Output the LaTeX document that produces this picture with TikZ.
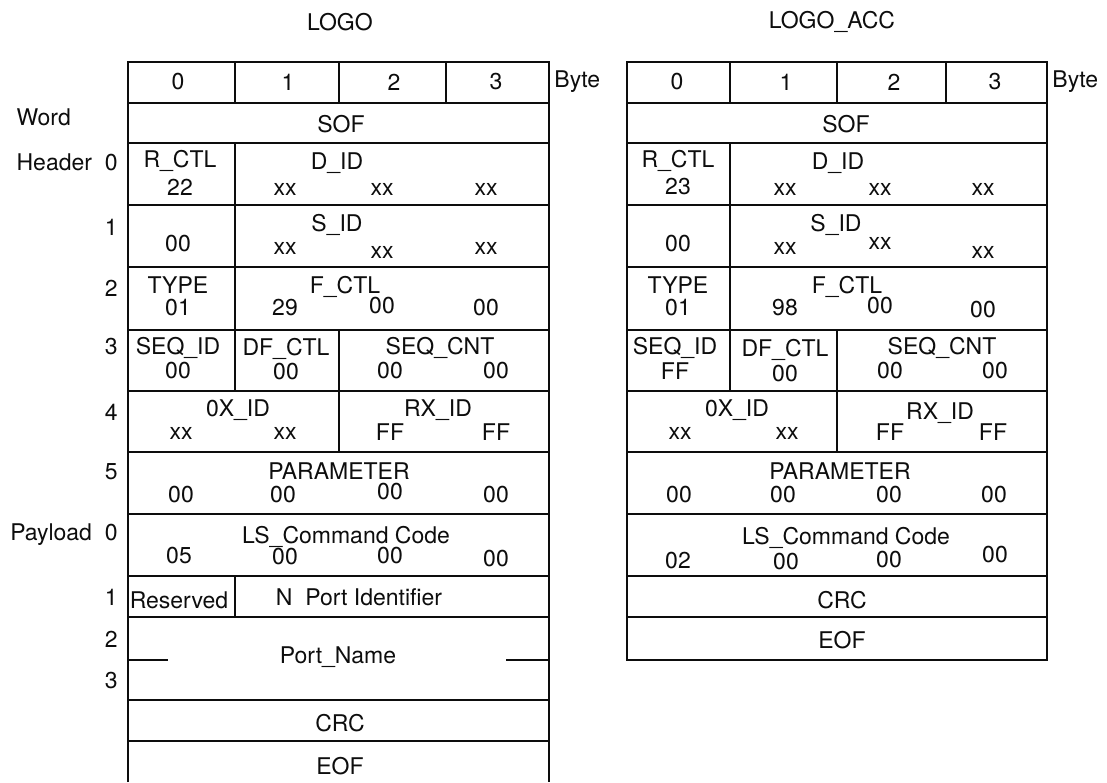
\documentclass[tikz,border=0pt]{standalone}
\usepackage{fontspec}
\setmainfont{TeX Gyre Heros}
\usepackage{tikz}
\usetikzlibrary{positioning}
\definecolor{frameink}{gray}{0.05}
\tikzset{
  frameline/.style  = {draw=frameink, line width=0.95pt},
  fieldtxt/.style   = {font=\fontsize{11.5}{13.5}\selectfont, text=frameink,
                       inner sep=0pt},
  sidelab/.style    = {fieldtxt, anchor=east},
  bytelab/.style    = {fieldtxt, anchor=west},
  frametitle/.style = {fieldtxt},
}

\begin{document}
\begin{tikzpicture}[x=0.5pt, y=-0.5pt]
  \useasboundingbox (0,0) rectangle (1107,782);
  % ---- LOGO ----
  \node[frametitle] (ltitle) at (340,22) {LOGO};
  \draw[frameline] (128,782) -- (128,62) -- (549,62) -- (549,782);
  \foreach \y in {103,143,205,267,330,391,452,514,576,617,700,741}
    \draw[frameline] (128,\y) -- (549,\y);
  \draw[frameline] (235,62) -- (235,103) (339,62) -- (339,103) (446,62) -- (446,103);
  \draw[frameline] (235,143) -- (235,391) (339,330) -- (339,452) (235,576) -- (235,617);
  \draw[frameline] (128,660) -- (168,660) (506,660) -- (549,660);
  \foreach \b/\x in {0/178,1/288,2/394,3/496}
    \node[fieldtxt] (lbyte\b) at (\x,82) {\b};
  \node[bytelab] (lbyte) at (554,82) {Byte};
  % word labels
  \coordinate (wordrow) at (0,117);
  \node[sidelab] (lhdr) at (118,162) {Header\ \ 0};
  \node[fieldtxt, anchor=west] (lword) at (lhdr.west |- wordrow) {Word};
  \foreach \w/\y in {1/227,2/288,3/347,4/412,5/472}
    \node[sidelab] (lw\w) at (118,\y) {\w};
  \node[sidelab] (lpay) at (118,535) {Payload\ \ 0};
  \foreach \w/\y in {1/597,2/639,3/681}
    \node[sidelab] (lp\w) at (118,\y) {\w};
  % fields
  \node[fieldtxt] (lsof) at (341,124) {SOF};
  \node[fieldtxt] (lrctl) at (180,161) {R\_CTL};
  \node[fieldtxt] (lrctlv) at (180,187) {22};
  \node[fieldtxt] (ldid) at (337,163) {D\_ID};
  \foreach \n/\x in {1/285,2/382,3/486}
    \node[fieldtxt] (ldid\n) at (\x,189) {xx};
  \node[fieldtxt] (lsidv) at (178,244) {00};
  \node[fieldtxt] (lsid) at (337,225) {S\_ID};
  \foreach \n/\x/\y in {1/285/248,2/382/252,3/486/248}
    \node[fieldtxt] (lsid\n) at (\x,\y) {xx};
  \node[fieldtxt] (ltype) at (178,285) {TYPE};
  \node[fieldtxt] (ltypev) at (178,308) {01};
  \node[fieldtxt] (lfctl) at (345,287) {F\_CTL};
  \node[fieldtxt] (lfctl1) at (285,308) {29};
  \node[fieldtxt] (lfctl2) at (382,306) {00};
  \node[fieldtxt] (lfctl3) at (486,308) {00};
  \node[fieldtxt] (lseqid) at (178,348) {SEQ\_ID};
  \node[fieldtxt] (lseqidv) at (178,371) {00};
  \node[fieldtxt] (ldfctl) at (286,349) {DF\_CTL};
  \node[fieldtxt] (ldfctlv) at (286,372) {00};
  \node[fieldtxt] (lseqcnt) at (440,348) {SEQ\_CNT};
  \node[fieldtxt] (lseqcnt1) at (390,371) {00};
  \node[fieldtxt] (lseqcnt2) at (496,371) {00};
  \node[fieldtxt] (loxid) at (238,410) {0X\_ID};
  \node[fieldtxt] (loxid1) at (181,433) {xx};
  \node[fieldtxt] (loxid2) at (285,433) {xx};
  \node[fieldtxt] (lrxid) at (438,410) {RX\_ID};
  \node[fieldtxt] (lrxid1) at (390,432) {FF};
  \node[fieldtxt] (lrxid2) at (496,432) {FF};
  \node[fieldtxt] (lparam) at (339,471) {PARAMETER};
  \foreach \n/\x/\y in {1/181/495,2/283/495,3/390/492,4/496/495}
    \node[fieldtxt] (lparam\n) at (\x,\y) {00};
  \node[fieldtxt] (lcmd) at (346,537) {LS\_Command Code};
  \node[fieldtxt] (lcmd1) at (179,556) {05};
  \foreach \n/\x/\y in {2/285/557,3/390/556,4/496/559}
    \node[fieldtxt] (lcmd\n) at (\x,\y) {00};
  \node[fieldtxt] (lresv) at (179,600) {Reserved};
  \node[fieldtxt] (lnport) at (359,597) {N\ \ Port Identifier};
  \node[fieldtxt] (lpname) at (338,657) {Port\_Name};
  \node[fieldtxt] (lcrc) at (340,723) {CRC};
  \node[fieldtxt] (leof) at (340,766) {EOF};

  % ---- LOGO_ACC ----
  \node[frametitle] (rtitle) at (832,22) {LOGO\_ACC};
  \draw[frameline] (627,62) rectangle (1047,660);
  \foreach \y in {103,143,205,267,330,391,452,514,576,617}
    \draw[frameline] (627,\y) -- (1047,\y);
  \draw[frameline] (730,62) -- (730,103) (837,62) -- (837,103) (946,62) -- (946,103);
  \draw[frameline] (730,143) -- (730,391) (837,330) -- (837,452);
  \foreach \b/\x in {0/677,1/786,2/894,3/995}
    \node[fieldtxt] (rbyte\b) at (\x,82) {\b};
  \node[bytelab] (rbyte) at (1052,82) {Byte};
  \node[fieldtxt] (rsof) at (846,124) {SOF};
  \node[fieldtxt] (rrctl) at (678,161) {R\_CTL};
  \node[fieldtxt] (rrctlv) at (678,187) {23};
  \node[fieldtxt] (rdid) at (838,163) {D\_ID};
  \foreach \n/\x in {1/785,2/880,3/983}
    \node[fieldtxt] (rdid\n) at (\x,189) {xx};
  \node[fieldtxt] (rsidv) at (678,244) {00};
  \node[fieldtxt] (rsid) at (836,225) {S\_ID};
  \foreach \n/\x/\y in {1/785/248,2/880/243,3/983/252}
    \node[fieldtxt] (rsid\n) at (\x,\y) {xx};
  \node[fieldtxt] (rtype) at (678,285) {TYPE};
  \node[fieldtxt] (rtypev) at (678,308) {01};
  \node[fieldtxt] (rfctl) at (847,287) {F\_CTL};
  \node[fieldtxt] (rfctl1) at (785,308) {98};
  \node[fieldtxt] (rfctl2) at (880,306) {00};
  \node[fieldtxt] (rfctl3) at (983,310) {00};
  \node[fieldtxt] (rseqid) at (675,348) {SEQ\_ID};
  \node[fieldtxt] (rseqidv) at (675,371) {FF};
  \node[fieldtxt] (rdfctl) at (785,350) {DF\_CTL};
  \node[fieldtxt] (rdfctlv) at (785,374) {00};
  \node[fieldtxt] (rseqcnt) at (942,348) {SEQ\_CNT};
  \node[fieldtxt] (rseqcnt1) at (890,371) {00};
  \node[fieldtxt] (rseqcnt2) at (995,371) {00};
  \node[fieldtxt] (roxid) at (737,410) {0X\_ID};
  \node[fieldtxt] (roxid1) at (680,433) {xx};
  \node[fieldtxt] (roxid2) at (787,433) {xx};
  \node[fieldtxt] (rrxid) at (940,413) {RX\_ID};
  \node[fieldtxt] (rrxid1) at (890,432) {FF};
  \node[fieldtxt] (rrxid2) at (993,432) {FF};
  \node[fieldtxt] (rparam) at (840,471) {PARAMETER};
  \foreach \n/\x in {1/679,2/783,3/889,4/994}
    \node[fieldtxt] (rparam\n) at (\x,495) {00};
  \node[fieldtxt] (rcmd) at (846,538) {LS\_Command Code};
  \node[fieldtxt] (rcmd1) at (678,561) {02};
  \foreach \n/\x/\y in {2/786/562,3/889/560,4/995/555}
    \node[fieldtxt] (rcmd\n) at (\x,\y) {00};
  \node[fieldtxt] (rcrc) at (842,600) {CRC};
  \node[fieldtxt] (reof) at (842,640) {EOF};
\end{tikzpicture}
\end{document}
